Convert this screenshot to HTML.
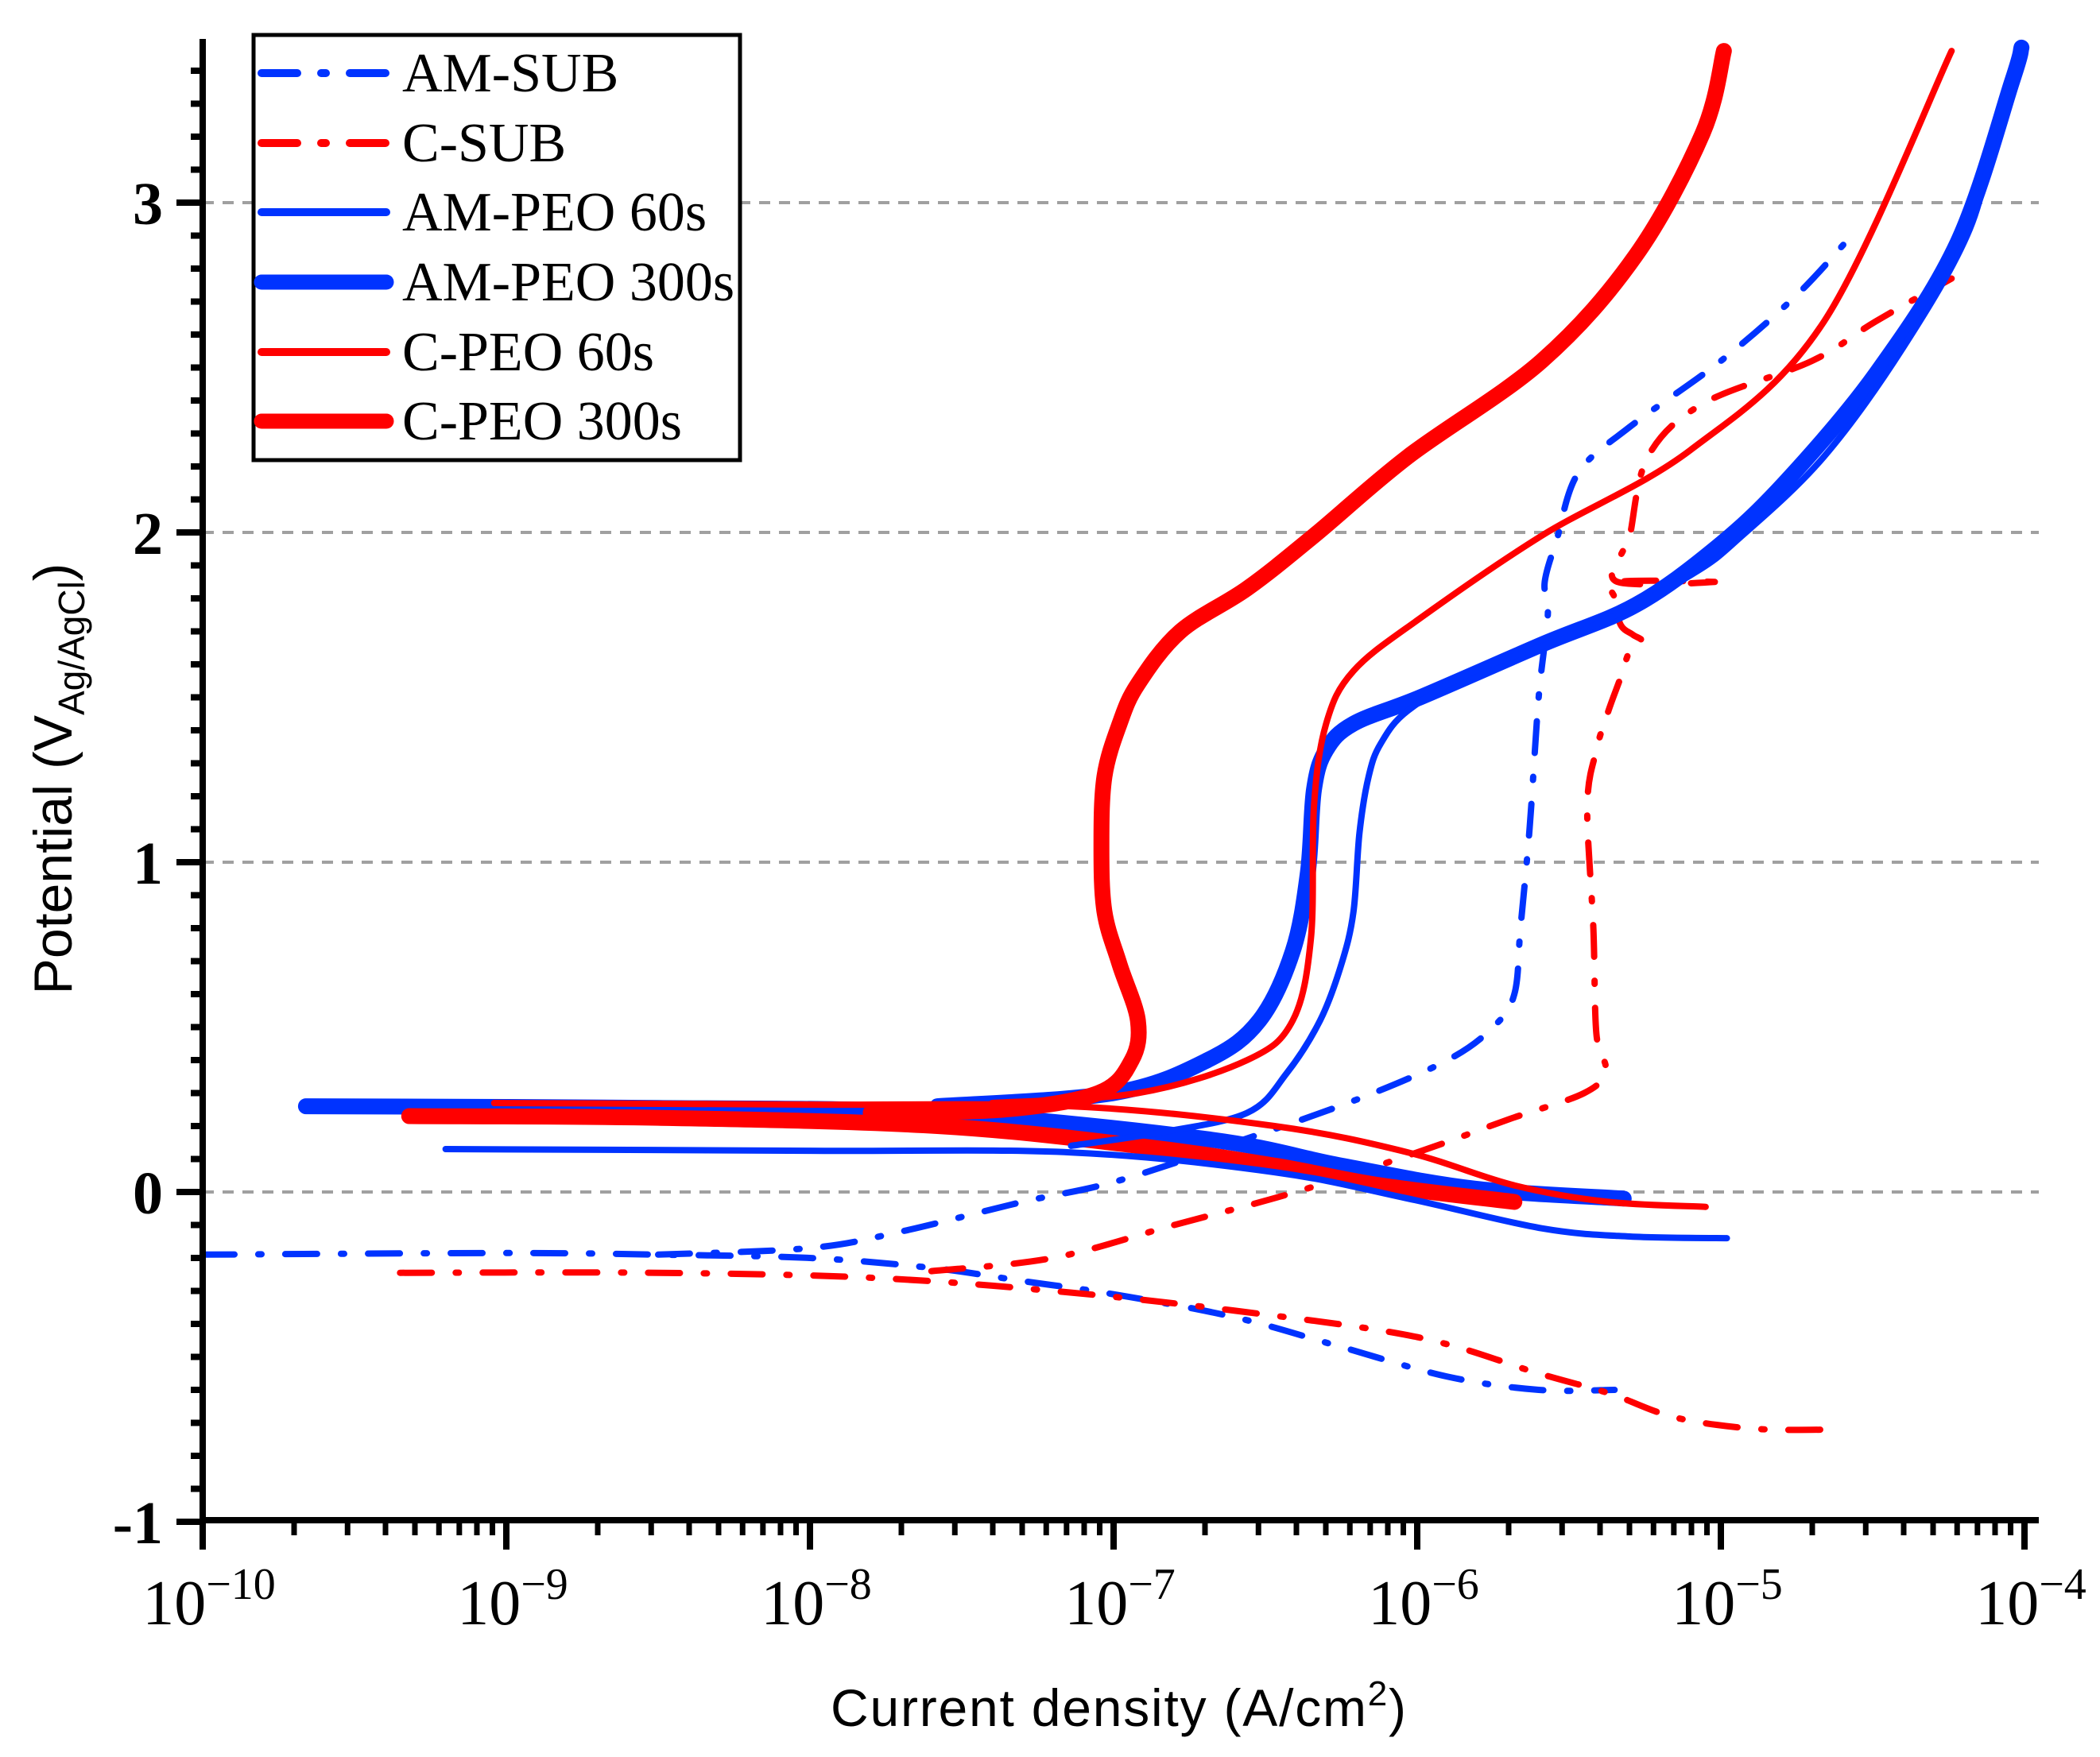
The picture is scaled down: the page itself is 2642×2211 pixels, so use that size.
<!DOCTYPE html>
<html><head><meta charset="utf-8"><style>html,body{margin:0;padding:0;background:#fff}svg{display:block}</style></head>
<body>
<svg id="chart" width="2642" height="2211" viewBox="0 0 2642 2211" xmlns="http://www.w3.org/2000/svg">
<g id="grid"></g>
<g id="series"></g>
<g id="axes"></g>
<g>
<rect x="319" y="44" width="612" height="535" fill="#fff" stroke="#000" stroke-width="5"/>
<g id="legend"></g>
</g>
<text x="1407" y="2172" font-family="Liberation Sans, sans-serif" font-size="66" text-anchor="middle" textLength="724">Current density (A/cm<tspan font-size="44" dy="-26">2</tspan><tspan dy="26">)</tspan></text>
<text transform="translate(90,980) rotate(-90)" font-family="Liberation Sans, sans-serif" font-size="68" text-anchor="middle">Potential (V<tspan font-size="46" dy="16">Ag/AgCl</tspan><tspan dy="-16">)</tspan></text>
</svg>
<script>
const xTicks=[-10,-9,-8,-7,-6,-5,-4];
const yTicks=[-1,0,1,2,3];
const amSubCath=[[-10,-0.19],[-9,-0.185],[-8.5,-0.19],[-8,-0.2],[-7.6,-0.23],[-7.3,-0.27],[-7,-0.31],[-6.6,-0.38],[-6.25,-0.47],[-5.9,-0.56],[-5.6,-0.6],[-5.35,-0.6]];
const amSubAnod=[[-8.5,-0.19],[-8.0,-0.17],[-7.7,-0.12],[-7.3,-0.03],[-7.0,0.03],[-6.6,0.15],[-6.2,0.28],[-5.9,0.4],[-5.75,0.5],[-5.68,0.6],[-5.66,0.8],[-5.63,1.1],[-5.6,1.5],[-5.57,1.75],[-5.58,1.85],[-5.54,1.98],[-5.47,2.18],[-5.3,2.32],[-5.0,2.52],[-4.75,2.72],[-4.57,2.9]];
const cSubCath=[[-9.35,-0.245],[-8.5,-0.245],[-7.8,-0.26],[-7.2,-0.3],[-6.6,-0.36],[-6.0,-0.44],[-5.6,-0.55],[-5.37,-0.61],[-5.2,-0.67],[-5.06,-0.70],[-4.85,-0.72],[-4.6,-0.72]];
const cSubAnod=[[-7.6,-0.24],[-7.2,-0.2],[-6.8,-0.1],[-6.4,0.0],[-6.0,0.12],[-5.7,0.22],[-5.45,0.3],[-5.38,0.37],[-5.41,0.48],[-5.42,0.8],[-5.44,1.17],[-5.41,1.34],[-5.37,1.46],[-5.33,1.56],[-5.30,1.64],[-5.26,1.67],[-5.29,1.69],[-5.33,1.72],[-5.35,1.80],[-5.34,1.85],[-5.02,1.85],[-5.34,1.85],[-5.32,1.95],[-5.30,1.99],[-5.24,2.23],[-5.06,2.39],[-4.70,2.52],[-4.49,2.64],[-4.24,2.77]];
const amPeo60Cath=[[-9.2,0.13],[-8,0.125],[-7.14,0.12],[-6.47,0.06],[-6.03,-0.02],[-5.59,-0.11],[-5.3,-0.135],[-4.98,-0.14]];
const amPeo60Anod=[[-7.14,0.14],[-6.85,0.18],[-6.56,0.24],[-6.43,0.36],[-6.32,0.52],[-6.25,0.69],[-6.21,0.85],[-6.19,1.09],[-6.16,1.26],[-6.12,1.36],[-6.03,1.46],[-5.81,1.58],[-5.46,1.70],[-5.10,1.87],[-4.93,1.99],[-4.66,2.23],[-4.40,2.56],[-4.18,2.92],[-4.09,3.25]];
const amPeo300Cath=[[-9.66,0.26],[-8.5,0.255],[-7.58,0.24],[-6.69,0.16],[-6.25,0.08],[-5.81,0.01],[-5.32,-0.02]];
const amPeo300Anod=[[-7.58,0.26],[-7.0,0.3],[-6.69,0.40],[-6.52,0.52],[-6.41,0.73],[-6.36,0.97],[-6.34,1.22],[-6.30,1.34],[-6.21,1.42],[-5.99,1.50],[-5.59,1.66],[-5.28,1.78],[-5.02,1.95],[-4.79,2.15],[-4.49,2.48],[-4.22,2.88],[-4.04,3.37],[-4.01,3.47]];
const cPeo60Cath=[[-9.04,0.27],[-8,0.265],[-7.14,0.26],[-6.47,0.20],[-6.03,0.12],[-5.68,0.02],[-5.37,-0.03],[-5.05,-0.045]];
const cPeo60Anod=[[-7.4,0.27],[-6.92,0.30],[-6.56,0.40],[-6.41,0.52],[-6.35,0.77],[-6.34,1.17],[-6.30,1.42],[-6.21,1.58],[-5.99,1.74],[-5.59,1.99],[-5.10,2.25],[-4.66,2.64],[-4.24,3.46]];
const cPeo300Cath=[[-9.32,0.23],[-8.5,0.225],[-7.58,0.20],[-6.92,0.14],[-6.47,0.08],[-6.12,0.02],[-5.68,-0.03]];
const cPeo300Anod=[[-7.8,0.24],[-7.36,0.25],[-7.05,0.30],[-6.94,0.40],[-6.92,0.52],[-6.98,0.69],[-7.03,0.85],[-7.04,1.05],[-7.03,1.26],[-6.98,1.42],[-6.92,1.54],[-6.78,1.70],[-6.56,1.83],[-6.34,1.99],[-6.03,2.23],[-5.59,2.52],[-5.28,2.84],[-5.06,3.21],[-4.99,3.46]];

const NS='http://www.w3.org/2000/svg';
const X=l=>255+(l+10)*382;
const Y=e=>1500-415*e;
function mk(tag,attrs,parent){const el=document.createElementNS(NS,tag);for(const k in attrs)el.setAttribute(k,attrs[k]);parent.appendChild(el);return el;}
function smooth(pts){const P=pts.map(q=>[X(q[0]),Y(q[1])]);let d='M'+P[0][0].toFixed(1)+','+P[0][1].toFixed(1);
for(let i=0;i<P.length-1;i++){const p0=P[i-1]||P[i],p1=P[i],p2=P[i+1],p3=P[i+2]||P[i+1];
const c1=[p1[0]+(p2[0]-p0[0])/6,p1[1]+(p2[1]-p0[1])/6],c2=[p2[0]-(p3[0]-p1[0])/6,p2[1]-(p3[1]-p1[1])/6];
d+='C'+c1[0].toFixed(1)+','+c1[1].toFixed(1)+' '+c2[0].toFixed(1)+','+c2[1].toFixed(1)+' '+p2[0].toFixed(1)+','+p2[1].toFixed(1);}
return d;}
const grid=document.getElementById('grid'),axes=document.getElementById('axes'),ser=document.getElementById('series'),leg=document.getElementById('legend');
[0,1,2,3].forEach(v=>{const g=mk('line',{x1:255,x2:2565,y1:Y(v),y2:Y(v),stroke:'#a0a0a0','stroke-width':4,'stroke-dasharray':'14 11'},grid);

});
const series=[
{name:'am-sub',parts:[amSubCath,amSubAnod],color:'#0033ff',w:8,dash:'40 30 4 30'},
{name:'c-sub',parts:[cSubCath,cSubAnod],color:'#ff0000',w:8,dash:'40 30 4 30'},
{name:'am-peo-300s',parts:[amPeo300Cath,amPeo300Anod],color:'#0033ff',w:20,dash:''},
{name:'c-peo-300s',parts:[cPeo300Cath,cPeo300Anod],color:'#ff0000',w:20,dash:''},
{name:'am-peo-60s',parts:[amPeo60Cath,amPeo60Anod],color:'#0033ff',w:8,dash:''},
{name:'c-peo-60s',parts:[cPeo60Cath,cPeo60Anod],color:'#ff0000',w:8,dash:''}];
series.forEach(s=>s.parts.forEach(p=>{
const a={d:smooth(p),fill:'none',stroke:s.color,'stroke-width':s.w,'stroke-linejoin':'round','stroke-linecap':'round'};if(s.dash)a['stroke-dasharray']=s.dash;
const el=mk('path',a,ser);

}));
let ax=mk('line',{x1:255,x2:255,y1:49,y2:1917,stroke:'#000','stroke-width':8},axes);


ax=mk('line',{x1:251,x2:2565,y1:1913,y2:1913,stroke:'#000','stroke-width':8},axes);


for(let i=-10;i<=34;i++){const e=i/10;const maj=i%10===0;mk('line',{x1:maj?222:240,x2:255,y1:Y(e),y2:Y(e),stroke:'#000','stroke-width':8},axes);}
yTicks.forEach(v=>{const t=mk('text',{x:205,y:Y(v)+27,'font-family':'Liberation Serif, serif','font-size':76,'font-weight':'bold','text-anchor':'end'},axes);t.textContent=String(v);

});
xTicks.forEach((v,i)=>{mk('line',{x1:X(v),x2:X(v),y1:1913,y2:1950,stroke:'#000','stroke-width':8},axes);
if(i<xTicks.length-1)for(let k=2;k<=9;k++){const xx=X(v+Math.log10(k));mk('line',{x1:xx,x2:xx,y1:1913,y2:1932,stroke:'#000','stroke-width':7},axes);}
const t=mk('text',{x:X(v)+8,y:2044,'font-family':'Liberation Serif, serif','font-size':80,'text-anchor':'middle'},axes);
t.innerHTML='10<tspan font-size="56" dy="-32">'+String(v).replace('-','\u2212')+'</tspan>';

});
const legItems=[['AM-SUB','#0033ff',10,'45 30 6 30'],['C-SUB','#ff0000',10,'45 30 6 30'],['AM-PEO 60s','#0033ff',10,''],['AM-PEO 300s','#0033ff',19,''],['C-PEO 60s','#ff0000',10,''],['C-PEO 300s','#ff0000',19,'']];
const legY=[92,180,267,355,443,530];
legItems.forEach((it,i)=>{const g=mk('g',{},leg);


const a={x1:329,x2:486,y1:legY[i],y2:legY[i],stroke:it[1],'stroke-width':it[2],'stroke-linecap':'round'};if(it[3])a['stroke-dasharray']=it[3];
mk('line',a,g);
const t=mk('text',{x:506,y:legY[i]+23,'font-family':'Liberation Serif, serif','font-size':70},g);t.textContent=it[0];});
</script>
</body></html>
